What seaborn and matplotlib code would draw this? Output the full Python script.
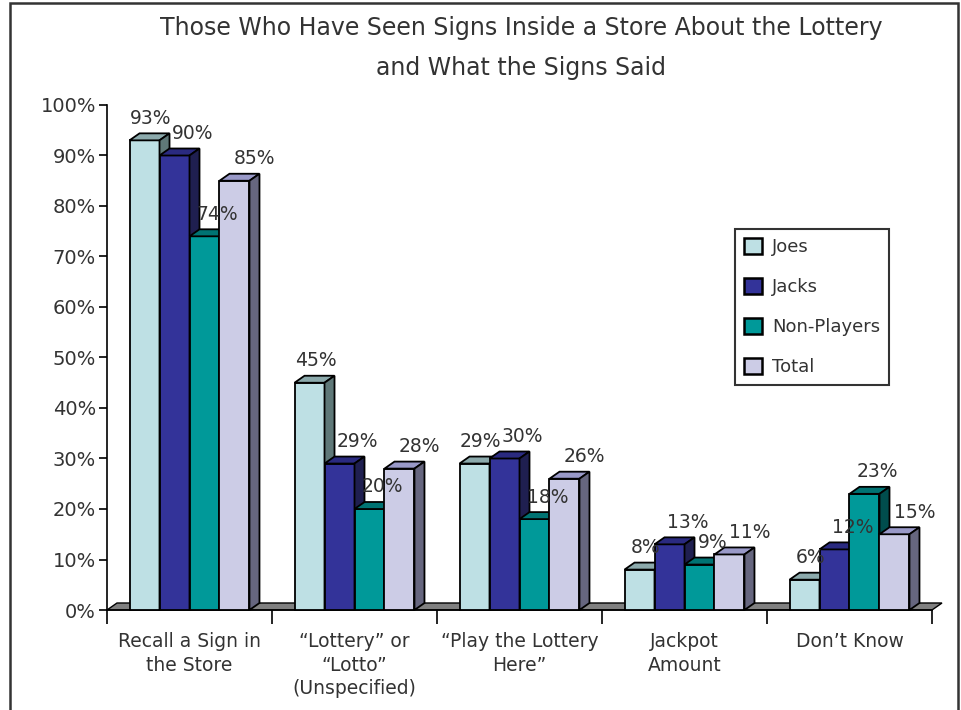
import matplotlib
matplotlib.use("Agg")
import matplotlib.pyplot as plt
from matplotlib.patches import Polygon, Rectangle, Patch
import seaborn as sns
import pandas as pd

categories = ["Recall a Sign in\nthe Store",
              "\u201cLottery\u201d or\n\u201cLotto\u201d\n(Unspecified)",
              "\u201cPlay the Lottery\nHere\u201d",
              "Jackpot\nAmount",
              "Don\u2019t Know"]
series = ["Joes", "Jacks", "Non-Players", "Total"]
joes = [93, 45, 29, 8, 6]
jacks = [90, 29, 30, 13, 12]
nonplayers = [74, 20, 18, 9, 23]
total = [85, 28, 26, 11, 15]
yticks = [0, 10, 20, 30, 40, 50, 60, 70, 80, 90, 100]

front = {"Joes": "#BEE0E4", "Jacks": "#333399", "Non-Players": "#009999", "Total": "#CCCCE6"}
topc = {"Joes": "#8CAAAC", "Jacks": "#2A2A80", "Non-Players": "#007373", "Total": "#9999C8"}
sidec = {"Joes": "#5F7878", "Jacks": "#1F1F50", "Non-Players": "#004D4D", "Total": "#66667F"}
# horizontal nudge of value labels (pixels) per series
label_nudge = {"Joes": 6, "Jacks": 18, "Non-Players": 13, "Total": 20}

rows = []
for s, vals in zip(series, [joes, jacks, nonplayers, total]):
    for c, v in zip(categories, vals):
        rows.append({"category": c, "series": s, "value": v})
df = pd.DataFrame(rows)

sns.set_theme(style="white")
plt.rcParams["font.family"] = ["DejaVu Sans"]
txt = "#333333"

fig = plt.figure(figsize=(9.61, 7.10), dpi=100)
ax = fig.add_axes([107/961, 1-610/710, (932-107)/961, (610-105)/710])

sns.barplot(data=df, x="category", y="value", hue="series", order=categories,
            hue_order=series, palette=front, width=0.727, saturation=1,
            edgecolor="black", linewidth=1.3, legend=False, ax=ax)

ax.set_xlim(-0.5, 4.5)
ax.set_ylim(0, 100)

# pixel -> data conversions for 3D depth
px_x = 5 / (932 - 107)
px_y = 100 / (610 - 105)
ddx = 10 * px_x
ddy = 7 * px_y

# floor
floor = Polygon([(-0.5, 0), (4.5, 0), (4.5 + ddx, ddy), (-0.5 + ddx, ddy)],
                closed=True, facecolor="#808080", edgecolor="black", linewidth=1.0,
                zorder=1, clip_on=False)
ax.add_patch(floor)

patches = sorted([p for p in ax.patches if isinstance(p, Rectangle) and p.get_height() > 0],
                 key=lambda p: p.get_x())
order_cols = {matplotlib.colors.to_hex(front[s]).lower(): s for s in series}

for i, p in enumerate(patches):
    x0 = p.get_x(); w = p.get_width(); h = p.get_height()
    s = order_cols[matplotlib.colors.to_hex(p.get_facecolor()).lower()]
    z = 3 + i * 3
    p.set_zorder(z)
    p.set_clip_on(False)
    top = Polygon([(x0, h), (x0 + w, h), (x0 + w + ddx, h + ddy), (x0 + ddx, h + ddy)],
                  closed=True, facecolor=topc[s], edgecolor="black", linewidth=1.3,
                  zorder=z + 1, clip_on=False)
    side = Polygon([(x0 + w, 0), (x0 + w + ddx, ddy), (x0 + w + ddx, h + ddy), (x0 + w, h)],
                   closed=True, facecolor=sidec[s], edgecolor="black", linewidth=1.3,
                   zorder=z + 1, clip_on=False)
    ax.add_patch(top)
    ax.add_patch(side)
    ax.text(x0 + w / 2 + label_nudge[s] * px_x, h + 22 * px_y, f"{int(round(h))}%",
            ha="center", va="center", fontsize=13.5, color=txt, zorder=200)

# axes styling
for sp in ["top", "right"]:
    ax.spines[sp].set_visible(False)
ax.spines["left"].set_color("black")
ax.spines["left"].set_linewidth(1.2)
ax.spines["bottom"].set_color("black")
ax.spines["bottom"].set_linewidth(1.2)
ax.spines["bottom"].set_zorder(2)

ax.set_yticks(yticks)
ax.set_yticklabels([f"{t}%" for t in yticks], fontsize=14, color=txt)
ax.tick_params(axis="y", direction="out", length=6, width=1.2, color="black", pad=2, left=True)

ax.set_xticks([i - 0.5 for i in range(len(categories) + 1)], minor=False)
ax.set_xticklabels([])
ax.set_xticks(range(len(categories)), minor=True)
ax.set_xticklabels(categories, minor=True, fontsize=13.5, color=txt, linespacing=1.3)
ax.tick_params(axis="x", which="major", direction="out", length=10, width=1.2, color="black", bottom=True)
ax.tick_params(axis="x", which="minor", length=0, pad=16)
ax.set_xlabel("")
ax.set_ylabel("")

# legend
handles = [Patch(facecolor=front[s], edgecolor="black", linewidth=1.8, label=s) for s in series]
leg = ax.legend(handles=handles, loc="upper left", bbox_to_anchor=(735/961, 1-229/710),
                bbox_transform=fig.transFigure, frameon=True, fancybox=False, shadow=False,
                fontsize=13, labelspacing=1.2, handlelength=1.0, handleheight=1.0,
                handletextpad=0.55, borderpad=0.5, borderaxespad=0)
leg.get_frame().set_edgecolor("black")
leg.get_frame().set_linewidth(1.5)
for t in leg.get_texts():
    t.set_color(txt)

# title
fig.text(521/961, 1-28/710, "Those Who Have Seen Signs Inside a Store About the Lottery",
         ha="center", va="center", fontsize=17, color=txt)
fig.text(521/961, 1-68/710, "and What the Signs Said",
         ha="center", va="center", fontsize=17, color=txt)

# outer border
fig.patches.append(Rectangle((10/961, -0.05), (958-10)/961, 1.05 - 3/710,
                             transform=fig.transFigure, fill=False,
                             edgecolor="#333333", linewidth=1.8))

fig.savefig("out.png", dpi=100)
